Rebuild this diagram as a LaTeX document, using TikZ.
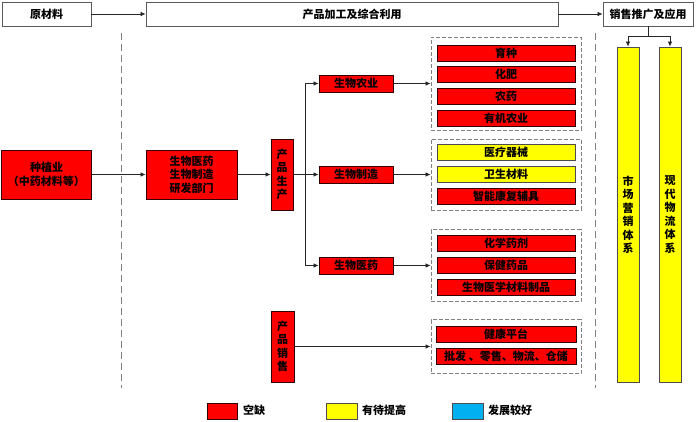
\documentclass[tikz,border=0pt]{standalone}
\usepackage{fontspec}
\setmainfont{Noto Sans CJK SC}
\usetikzlibrary{arrows.meta}
\definecolor{myred}{RGB}{255,0,0}
\definecolor{myyellow}{RGB}{255,255,0}
\definecolor{myblue}{RGB}{0,176,240}
\definecolor{linegray}{RGB}{90,90,90}
\definecolor{dashgray}{RGB}{128,128,128}
\begin{document}
\begin{tikzpicture}[x=1pt,y=-1pt,
  every node/.style={inner sep=0pt,font=\fontsize{11}{13.5}\selectfont\bfseries},
  topbox/.style={draw=linegray,fill=white,line width=0.8pt},
  redbox/.style={draw=black!80!red,fill=myred,line width=0.8pt,align=center},
  yelbox/.style={draw=black!70,fill=myyellow,line width=0.8pt,align=center},
  bluebox/.style={draw=black!70,fill=myblue,line width=0.8pt},
  group/.style={draw=dashgray,dash pattern=on 4pt off 2pt,line width=0.8pt},
  divider/.style={draw=dashgray,dash pattern=on 7pt off 4pt,line width=0.8pt},
  conn/.style={draw=black!85,line width=0.7pt},
  arr/.style={conn,-{Latex[length=5pt,width=4.5pt]}},
  vtext/.style={align=center,font=\fontsize{11}{13.5}\selectfont\bfseries}
]
\useasboundingbox (0,0) rectangle (696,421);

% top row
\node[topbox,minimum width=89,minimum height=24] (raw) at (46.5,14) {原材料};
\node[topbox,minimum width=412,minimum height=24] (proc) at (352,14) {产品加工及综合利用};
\node[topbox,minimum width=90,minimum height=24] (sale) at (648,14) {销售推广及应用};
\draw[arr] (raw.east) -- (proc.west);
\draw[arr] (proc.east) -- (sale.west);

% dividers
\coordinate (d1t) at (121,33); \coordinate (d1b) at (121,388);
\coordinate (d2t) at (595,33); \coordinate (d2b) at (595,388);
\draw[divider] (d1t) -- (d1b);
\draw[divider] (d2t) -- (d2b);

% tall yellow bars
\node[yelbox,minimum width=22,minimum height=335,vtext] (mkt) at (628,214.5) {市\\场\\营\\销\\体\\系};
\node[yelbox,minimum width=22,minimum height=335,vtext] (logi) at (670,214.5) {现\\代\\物\\流\\体\\系};
\draw[conn] (sale.south) -- ++(0,10) coordinate (sj);
\draw[arr] (sj) -| (mkt.north);
\draw[arr] (sj) -| (logi.north);

% left chain
\node[redbox,minimum width=90,minimum height=49] (plant) at (46.5,174.5) {种植业\\（中药材料等）};
\node[redbox,minimum width=91,minimum height=49] (rd) at (191.5,174.5) {生物医药\\生物制造\\研发部门};
\node[redbox,minimum width=22,minimum height=71,vtext] (prod) at (282,174.5) {产\\品\\生\\产};
\draw[arr] (plant.east) -- (rd.west);
\draw[arr] (rd.east) -- (prod.west);

% branches
\node[redbox,minimum width=74,minimum height=17] (agri) at (356,83.5) {生物农业};
\node[redbox,minimum width=74,minimum height=17] (manu) at (356,174.5) {生物制造};
\node[redbox,minimum width=74,minimum height=17] (medi) at (356,265.5) {生物医药};
\coordinate (split) at (305,174.5);
\draw[conn] (prod.east) -- (split);
\draw[arr] (split) -- (manu.west);
\draw[arr] (split) |- (agri.west);
\draw[arr] (split) |- (medi.west);

% groups
\node[group,minimum width=150,minimum height=93] (g1) at (506,83.5) {};
\node[group,minimum width=150,minimum height=71] (g2) at (506,174.5) {};
\node[group,minimum width=150,minimum height=72] (g3) at (506,265.5) {};
\node[group,minimum width=150,minimum height=54] (g4) at (506,346.5) {};
\draw[arr] (agri.east) -- (g1.west);
\draw[arr] (manu.east) -- (g2.west);
\draw[arr] (medi.east) -- (g3.west);

% items
\node[redbox,minimum width=138,minimum height=16] (i1) at (506,53) {育种};
\node[redbox,minimum width=138,minimum height=16] (i2) at (506,74.5) {化肥};
\node[redbox,minimum width=138,minimum height=16] (i3) at (506,96.5) {农药};
\node[redbox,minimum width=138,minimum height=16] (i4) at (506,118.5) {有机农业};
\node[yelbox,minimum width=138,minimum height=16] (i5) at (506,152.5) {医疗器械};
\node[yelbox,minimum width=138,minimum height=16] (i6) at (506,174.5) {卫生材料};
\node[redbox,minimum width=138,minimum height=16] (i7) at (506,196.5) {智能康复辅具};
\node[redbox,minimum width=138,minimum height=16] (i8) at (506,243.5) {化学药剂};
\node[redbox,minimum width=138,minimum height=16] (i9) at (506,265.5) {保健药品};
\node[redbox,minimum width=138,minimum height=16] (i10) at (506,287.5) {生物医学材料制品};
\node[redbox,minimum width=140,minimum height=16] (i11) at (506,334.5) {健康平台};
\node[redbox,minimum width=140,minimum height=16] (i12) at (506,356.5) {批发 、零售、物流、仓储};

% sales
\node[redbox,minimum width=23,minimum height=71,vtext] (sales) at (282.5,346.5) {产\\品\\销\\售};
\draw[arr] (sales.east) -- (g4.west);

% legend
\node[redbox,minimum width=30,minimum height=16] (l1) at (222,411) {};
\node[anchor=west] (t1) at (243,410) {空缺};
\node[yelbox,minimum width=31,minimum height=16] (l2) at (341.5,411) {};
\node[anchor=west] (t2) at (362,410) {有待提高};
\node[bluebox,minimum width=31,minimum height=16] (l3) at (467.5,411) {};
\node[anchor=west] (t3) at (488,410) {发展较好};
\end{tikzpicture}
\end{document}
